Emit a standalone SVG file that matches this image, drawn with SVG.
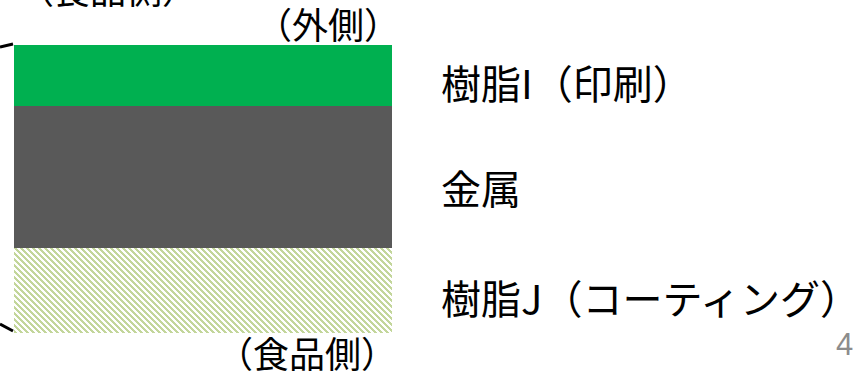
<svg xmlns="http://www.w3.org/2000/svg" width="859" height="376" viewBox="0 0 859 376">
<style>
.t{font-family:"Noto Sans CJK JP","Noto Sans",sans-serif;fill:#000}
.big{font-size:40px}
.sm{font-size:36px}
.pg{font-family:"Liberation Sans",Arial,sans-serif;font-size:31px;fill:#8c8c8c}
</style>
<defs>
<pattern id="hatch" patternUnits="userSpaceOnUse" x="14" y="248" width="6" height="6">
<rect width="6" height="6" fill="#fff" shape-rendering="crispEdges"/>
<path fill="#c3d69b" shape-rendering="crispEdges" d="M0 0h3v1h-3zM1 1h3v1h-3zM2 2h3v1h-3zM3 3h3v1h-3zM4 4h2v1h-2zM0 4h1v1h-1zM5 5h1v1h-1zM0 5h2v1h-2z"/>
</pattern>
</defs>
<rect width="859" height="376" fill="#fff"/>
<g id="layer-resin-i"><rect x="14" y="45" width="378" height="61" fill="#00b050"/></g>
<g id="layer-metal"><rect x="14" y="106" width="378" height="142" fill="#595959"/></g>
<g id="layer-resin-j"><rect x="14" y="248" width="378" height="85" fill="url(#hatch)"/></g>
<g id="connectors" stroke="#000" stroke-width="3" fill="none">
<line x1="0" y1="47" x2="13" y2="44"/>
<line x1="0" y1="324" x2="13" y2="331"/>
</g>
<g id="labels">
<text class="t sm" x="18" y="4">（食品側）</text>
<text class="t sm" x="256" y="39">（外側）</text>
<text class="t sm" x="217" y="368">（食品側）</text>
<text class="t big" x="441" y="99">樹脂I（印刷）</text>
<text class="t big" x="441" y="204">金属</text>
<text class="t big" x="441" y="314">樹脂J（コーティング）</text>
<text class="pg" x="836" y="355">4</text>
</g>
</svg>
